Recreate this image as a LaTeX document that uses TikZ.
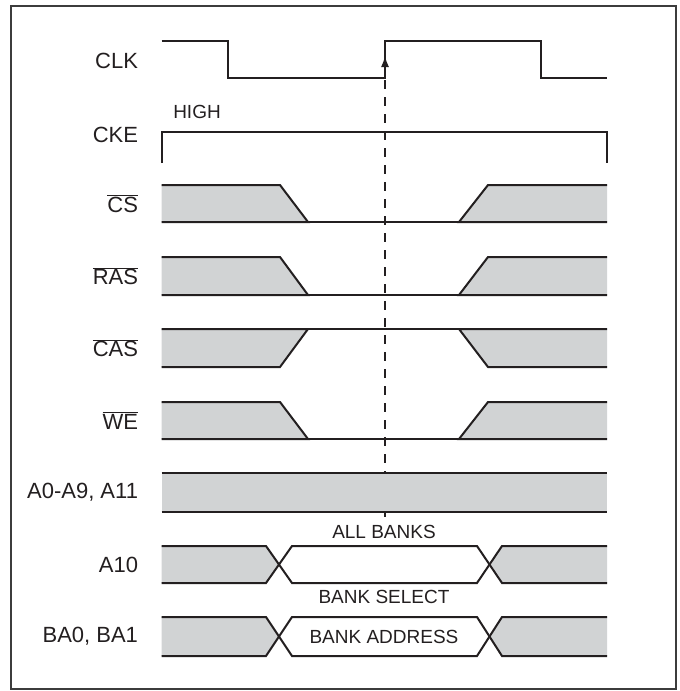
\documentclass[tikz,border=0pt]{standalone}
\usepackage{fontspec}
\setmainfont{Liberation Sans}
\usetikzlibrary{arrows.meta}

\definecolor{ink}{RGB}{35,31,32}
\definecolor{busgray}{RGB}{209,211,212}
\definecolor{rim}{RGB}{60,60,60}

\tikzset{every picture/.style={line width=2pt}}
\tikzset{
  wave/.style={draw=ink, line width=2pt, line join=miter},
  wavethin/.style={draw=ink, line width=1.2pt},
  busfill/.style={fill=busgray, draw=none},
  sigtext/.style={font=\fontsize{22}{26}\selectfont, anchor=east, inner sep=0pt, text=ink},
  notetext/.style={font=\fontsize{19}{23}\selectfont, inner sep=0pt, text=ink},
}

\begin{document}
\begin{tikzpicture}[x=1pt,y=1pt,yscale=-1,xscale=1]
\useasboundingbox (0,0) rectangle (680,691);

%Frame
\draw [rim, line width=1.7pt] (11,6) rectangle (676,689);

%Straight Lines [CLK]
\draw [wave] (161.7,41) -- (228.3,41) -- (228.3,78) -- (385,78) -- (385,41) -- (540.6,41) -- (540.6,78) -- (607,78);
%Arrow on rising edge
\draw [ink, line width=1.4pt, -{Latex[length=11pt,width=8pt]}] (385,76) -- (385,56);
%Dashed reference line
\draw [ink, line width=1.4pt, dash pattern=on 9pt off 8pt] (385,80) -- (385,473);
\draw [ink, line width=1.4pt] (385,512) -- (385,517);

%Straight Lines [CKE]
\draw [wave] (161.7,163) -- (161.7,131.7) -- (607,131.7) -- (607,163);

%Shape: CS
\path [busfill] (161.7,185) -- (280,185) -- (308,222) -- (161.7,222) -- cycle;
\path [busfill] (488,185) -- (607,185) -- (607,222) -- (459,222) -- cycle;
\draw [wave] (161.7,185) -- (280,185) -- (308,222) -- (161.7,222);
\draw [wavethin] (308,222) -- (459,222);
\draw [wave] (607,185) -- (488,185) -- (459,222) -- (607,222);

%Shape: RAS
\path [busfill] (161.7,257) -- (280,257) -- (308,295) -- (161.7,295) -- cycle;
\path [busfill] (488,257) -- (607,257) -- (607,295) -- (459,295) -- cycle;
\draw [wave] (161.7,257) -- (280,257) -- (308,295) -- (161.7,295);
\draw [wavethin] (308,295) -- (459,295);
\draw [wave] (607,257) -- (488,257) -- (459,295) -- (607,295);

%Shape: CAS
\path [busfill] (161.7,329) -- (308,329) -- (280,367) -- (161.7,367) -- cycle;
\path [busfill] (459,329) -- (607,329) -- (607,367) -- (488,367) -- cycle;
\draw [wave] (161.7,367) -- (280,367) -- (308,329) -- (161.7,329);
\draw [wavethin] (308,329) -- (459,329);
\draw [wave] (607,367) -- (488,367) -- (459,329) -- (607,329);

%Shape: WE
\path [busfill] (161.7,402) -- (280,402) -- (308,439) -- (161.7,439) -- cycle;
\path [busfill] (488,402) -- (607,402) -- (607,439) -- (459,439) -- cycle;
\draw [wave] (161.7,402) -- (280,402) -- (308,439) -- (161.7,439);
\draw [wavethin] (308,439) -- (459,439);
\draw [wave] (607,402) -- (488,402) -- (459,439) -- (607,439);

%Shape: A0-A9, A11
\path [busfill] (161.7,473) rectangle (607,512);
\draw [wave] (161.7,473) -- (607,473);
\draw [wave] (161.7,512) -- (607,512);

%Shape: A10
\path [busfill] (161.7,546) -- (266,546) -- (279,564.5) -- (266,583) -- (161.7,583) -- cycle;
\path [busfill] (607,546) -- (502,546) -- (489.5,564.5) -- (502,583) -- (607,583) -- cycle;
\draw [wave] (161.7,546) -- (266,546) -- (292,583) -- (477,583) -- (502,546) -- (607,546);
\draw [wave] (161.7,583) -- (266,583) -- (292,546) -- (477,546) -- (502,583) -- (607,583);

%Shape: BA0, BA1
\path [busfill] (161.7,617) -- (266,617) -- (279,636.5) -- (266,656) -- (161.7,656) -- cycle;
\path [busfill] (607,617) -- (502,617) -- (489.5,636.5) -- (502,656) -- (607,656) -- cycle;
\draw [wave] (161.7,617) -- (266,617) -- (292,656) -- (477,656) -- (502,617) -- (607,617);
\draw [wave] (161.7,656) -- (266,656) -- (292,617) -- (477,617) -- (502,656) -- (607,656);

% Text Node
\node [sigtext] (clk) at (139,61) {CLK};
% Text Node
\node [sigtext] (cke) at (139,135) {CKE};
% Text Node
\node [sigtext] (cs) at (139,203.5) {$\overline{\mbox{CS}}$};
% Text Node
\node [sigtext] (ras) at (139,276) {$\overline{\mbox{RAS}}$};
% Text Node
\node [sigtext] (cas) at (139,348) {$\overline{\mbox{CAS}}$};
% Text Node
\node [sigtext] (we) at (139,420.5) {$\overline{\mbox{WE}}$};
% Text Node
\node [sigtext] (addr) at (139,492.5) {A0-A9, A11};
% Text Node
\node [sigtext] (aten) at (139,564.5) {A10};
% Text Node
\node [sigtext] (bank) at (139,636.5) {BA0, BA1};
% Text Node
\node [notetext] (high) at (197,112) {HIGH};
% Text Node
\node [notetext] (allbanks) at (384,531.5) {ALL BANKS};
% Text Node
\node [notetext] (banksel) at (384,597) {BANK SELECT};
% Text Node
\node [notetext] (bankaddr) at (384,636.5) {BANK ADDRESS};

\end{tikzpicture}
\end{document}
